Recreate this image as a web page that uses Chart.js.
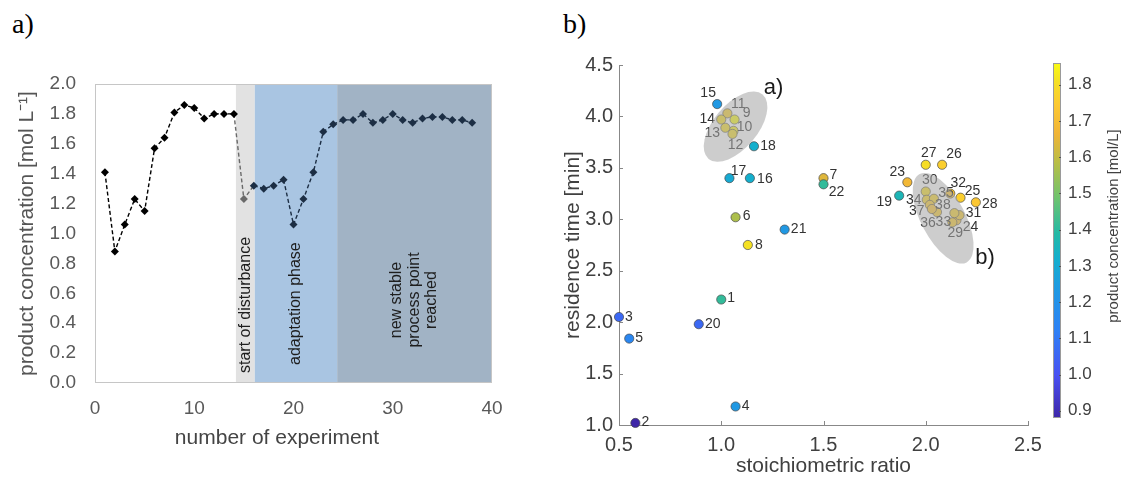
<!DOCTYPE html>
<html>
<head>
<meta charset="utf-8">
<script src="https://cdn.jsdelivr.net/npm/chart.js@4.4.1/dist/chart.umd.min.js"></script>
<style>
  html, body { margin: 0; padding: 0; background: #fff; }
  body { width: 1121px; height: 479px; position: relative; overflow: hidden; }
  .tag { position: absolute; top: 10px; font: 28px "Liberation Serif", "Times New Roman", serif; line-height: 1; color: #000; }
  #wrapA { position: absolute; left: 0; top: 0; width: 540px; height: 479px; }
  #wrapB { position: absolute; left: 540px; top: 0; width: 581px; height: 479px; }
</style>
</head>
<body>
<div class="tag" style="left:12px">a)</div>
<div class="tag" style="left:563px">b)</div>
<div id="wrapA"><canvas id="chartA"></canvas></div>
<div id="wrapB"><canvas id="chartB"></canvas></div>
<script>
// experiment number and measured product concentration [mol/L]
const experiments = [1, 2, 3, 4, 5, 6, 7, 8, 9, 10, 11, 12, 13, 14, 15, 16, 17, 18, 19,
  20, 21, 22, 23, 24, 25, 26, 27, 28, 29, 30, 31, 32, 33, 34, 35, 36, 37, 38];
const concentration = [1.41, 0.88, 1.06, 1.23, 1.15, 1.57, 1.64, 1.81, 1.86, 1.84,
  1.77, 1.80, 1.80, 1.80, 1.23, 1.32, 1.30, 1.32, 1.36, 1.06, 1.23, 1.41, 1.68, 1.73,
  1.76, 1.76, 1.80, 1.74, 1.76, 1.80, 1.76, 1.74, 1.77, 1.78, 1.78, 1.76, 1.76, 1.74];

// set points of every experiment
const stoichRatio = [1.00, 0.58, 0.50, 1.07, 0.55, 1.07, 1.50, 1.13, 1.065, 1.06,
  1.03, 1.055, 1.02, 1.00, 0.98, 1.14, 1.04, 1.16, 1.87, 0.89, 1.31, 1.50, 1.91, 2.15,
  2.17, 2.08, 2.00, 2.245, 2.13, 2.00, 2.165, 2.12, 2.14, 2.005, 2.04, 2.055, 2.02, 2.03];
const residenceTime = [2.22, 1.02, 2.05, 1.18, 1.84, 3.02, 3.40, 2.75, 3.97, 3.86,
  4.03, 3.83, 3.89, 3.97, 4.12, 3.40, 3.40, 3.71, 3.23, 1.98, 2.90, 3.34, 3.36, 2.99,
  3.21, 3.53, 3.53, 3.165, 2.97, 3.27, 3.04, 3.25, 3.06, 3.19, 3.20, 3.07, 3.14, 3.10];

// process phases along the experiment axis
const phaseStart = [14.2, 16.1, 24.4];
const phaseEnd = [16.1, 24.4, 40];
const phaseLabels = [['start of disturbance'], ['adaptation phase'], ['new stable', 'process point', 'reached']];

// grouped operating points
const clusterNames = ['a)', 'b)'];
const clusterRatio = [1.07, 2.085];
const clusterTime = [3.90, 3.01];

const colorbarTicks = [0.9, 1.0, 1.1, 1.2, 1.3, 1.4, 1.5, 1.6, 1.7, 1.8];

// ---- styling ----
const FONT = '"Liberation Sans", Arial, sans-serif';
Chart.defaults.font.family = FONT;
Chart.defaults.color = '#555';

const phaseFill = ['#e2e2e2', '#a9c5e2', '#a1b3c5'];
const captionStyle = [{align: 'left', y: 373}, {align: 'left', y: 365}, {align: 'center', y: 300}];
const pointInk = x => x <= 14 ? '#000000' : x < 16 ? '#6a6a6a' : '#1c2e44';
const segmentInk = x => x < 14 ? '#000000' : x < 16 ? '#6a6a6a' : '#1c2e44';

const clusterShape = [
  {rx: 42, ry: 22, rot: -50, dx: 38, dy: -39},
  {rx: 50, ry: 22, rot: 62, dx: 42, dy: 40}
];

// [dx, dy] of each run number relative to its marker
const labelOffset = {
  1: [10, -1], 2: [10, -1], 3: [10, 0], 4: [10, 0], 5: [10, 0], 6: [11, -1], 7: [10, -3],
  8: [11, 0], 9: [12, -6], 10: [11, -4], 11: [11, -9], 12: [3, 11], 13: [-13, 5],
  14: [-14, 0], 15: [-9, -11], 16: [15, 1], 17: [9, -7], 18: [14, 0], 19: [-15, 7],
  20: [14, 0], 21: [14, 0], 22: [13, 8], 23: [-10, -10], 24: [14, 7], 25: [12, -7],
  26: [12, -11], 27: [3, -12], 28: [14, 2], 29: [3, 11], 30: [4, -11], 31: [14, -2],
  32: [8, -10], 33: [-11, 9], 34: [-13, 0], 35: [12, -6], 36: [-9, 11], 37: [-13, 6],
  38: [11, -4]
};

// parula-like colour map
const parulaStops = [
  [0.00, [62, 38, 168]], [0.12, [72, 80, 242]], [0.25, [45, 130, 245]],
  [0.37, [30, 155, 225]], [0.45, [20, 175, 205]], [0.52, [35, 185, 165]],
  [0.62, [110, 195, 110]], [0.72, [185, 190, 70]], [0.80, [240, 180, 55]],
  [0.88, [252, 200, 50]], [0.95, [245, 225, 35]], [1.00, [249, 251, 20]]
];
function parula(t) {
  t = Math.max(0, Math.min(1, t));
  for (let i = 1; i < parulaStops.length; i++) {
    const [t1, c1] = parulaStops[i];
    if (t <= t1) {
      const [t0, c0] = parulaStops[i - 1];
      const f = (t - t0) / (t1 - t0);
      const c = c0.map((v, k) => Math.round(v + (c1[k] - v) * f));
      return `rgb(${c[0]},${c[1]},${c[2]})`;
    }
  }
  return 'rgb(249,251,20)';
}
const cMin = Math.min(...concentration);
const cMax = Math.max(...concentration);

// ---- panel a: concentration over the experiment series ----
const phasePlugin = {
  id: 'phases',
  beforeDatasetsDraw(chart) {
    const {ctx, chartArea: a, scales: {x}} = chart;
    ctx.save();
    phaseStart.forEach((s, i) => {
      const x0 = x.getPixelForValue(s), x1 = x.getPixelForValue(phaseEnd[i]);
      ctx.fillStyle = phaseFill[i];
      ctx.fillRect(x0, a.top, x1 - x0, a.bottom - a.top);
    });
    ctx.fillStyle = '#1e1e1e';
    ctx.font = '16px ' + FONT;
    ctx.textBaseline = 'middle';
    phaseLabels.forEach((lines, i) => {
      const cx = (x.getPixelForValue(phaseStart[i]) + x.getPixelForValue(phaseEnd[i])) / 2;
      const st = captionStyle[i];
      ctx.save();
      ctx.translate(cx, st.y);
      ctx.rotate(-Math.PI / 2);
      ctx.textAlign = st.align;
      lines.forEach((ln, k) => ctx.fillText(ln, 0, (k - (lines.length - 1) / 2) * 17.5));
      ctx.restore();
    });
    ctx.strokeStyle = '#c6c6c6';
    ctx.lineWidth = 1;
    ctx.strokeRect(a.left + 0.5, a.top + 0.5, a.right - a.left - 1, a.bottom - a.top - 1);
    ctx.restore();
  },
  afterDraw(chart) {
    const {ctx} = chart;
    ctx.save();
    ctx.fillStyle = '#444';
    ctx.font = '21px ' + FONT;
    ctx.textAlign = 'center';
    ctx.textBaseline = 'middle';
    ctx.fillText('number of experiment', 277, 438);
    ctx.restore();
  }
};

new Chart(document.getElementById('chartA'), {
  type: 'line',
  data: {
    datasets: [{
      data: experiments.map((e, i) => ({x: e, y: concentration[i]})),
      borderColor: '#000',
      borderWidth: 1.4,
      borderDash: [4, 2.5],
      pointStyle: 'rectRot',
      pointRadius: 4,
      pointBorderWidth: 0,
      pointBackgroundColor: experiments.map(pointInk),
      pointBorderColor: experiments.map(pointInk),
      segment: {borderColor: c => segmentInk(c.p0.parsed.x)},
      clip: false
    }]
  },
  options: {
    responsive: true,
    maintainAspectRatio: false,
    animation: false,
    layout: {padding: {top: 84, right: 48, bottom: 0, left: 0}},
    plugins: {legend: {display: false}, tooltip: {enabled: false}},
    scales: {
      x: {
        type: 'linear', min: 0, max: 40,
        grid: {display: false, drawTicks: false},
        border: {display: false},
        ticks: {stepSize: 10, padding: 14, color: '#595959', font: {size: 19}, autoSkip: false},
        afterFit: s => { s.height = 96; }
      },
      y: {
        min: 0, max: 2,
        grid: {display: false, drawTicks: false},
        border: {display: false},
        ticks: {stepSize: 0.2, padding: 19, color: '#595959', font: {size: 19}, autoSkip: false,
          callback: v => v.toFixed(1)},
        title: {display: true, text: 'product concentration [mol L⁻¹]', color: '#555',
          font: {size: 21}, padding: {top: 15, bottom: 0}},
        afterFit: s => { s.width = 95; }
      }
    }
  },
  plugins: [phasePlugin]
});

// ---- panel b: operating points coloured by concentration ----
const annotatePlugin = {
  id: 'annotate',
  afterDatasetsDraw(chart) {
    const {ctx, chartArea: a, scales: {x, y}} = chart;
    ctx.save();
    // inward tick marks
    ctx.strokeStyle = '#888';
    ctx.lineWidth = 1;
    ctx.beginPath();
    x.ticks.forEach(t => {
      const px = Math.round(x.getPixelForValue(t.value)) + 0.5;
      ctx.moveTo(px, a.bottom); ctx.lineTo(px, a.bottom - 4);
    });
    y.ticks.forEach(t => {
      const py = Math.round(y.getPixelForValue(t.value)) + 0.5;
      ctx.moveTo(a.left, py); ctx.lineTo(a.left + 4, py);
    });
    ctx.stroke();

    // run numbers
    ctx.fillStyle = '#333';
    ctx.font = '14px ' + FONT;
    ctx.textAlign = 'center';
    ctx.textBaseline = 'middle';
    experiments.forEach((e, i) => {
      const [dx, dy] = labelOffset[e];
      ctx.fillText(String(e), x.getPixelForValue(stoichRatio[i]) + dx, y.getPixelForValue(residenceTime[i]) + dy);
    });

    // translucent cluster outlines laid over the points
    clusterNames.forEach((name, i) => {
      const cx = x.getPixelForValue(clusterRatio[i]);
      const cy = y.getPixelForValue(clusterTime[i]);
      const s = clusterShape[i];
      ctx.beginPath();
      ctx.ellipse(cx, cy, s.rx, s.ry, s.rot * Math.PI / 180, 0, 2 * Math.PI);
      ctx.fillStyle = 'rgba(166,166,166,0.56)';
      ctx.fill();
      ctx.fillStyle = '#1a1a1a';
      ctx.font = '22px ' + FONT;
      ctx.fillText(name, cx + s.dx, cy + s.dy);
    });
    ctx.restore();
  },
  afterDraw(chart) {
    const {ctx} = chart;
    const left = 513, width = 8, top = 63, bottom = 418;
    ctx.save();
    const g = ctx.createLinearGradient(0, bottom, 0, top);
    parulaStops.forEach(([t]) => g.addColorStop(t, parula(t)));
    ctx.fillStyle = g;
    ctx.fillRect(left, top, width, bottom - top);
    ctx.strokeStyle = '#9a9a9a';
    ctx.lineWidth = 1;
    ctx.strokeRect(left + 0.5, top + 0.5, width - 1, bottom - top - 1);

    ctx.fillStyle = '#404040';
    ctx.font = '17px ' + FONT;
    ctx.textAlign = 'left';
    ctx.textBaseline = 'middle';
    colorbarTicks.forEach(v => {
      const py = bottom - (v - cMin) / (cMax - cMin) * (bottom - top);
      ctx.beginPath();
      ctx.moveTo(left + width - 2, Math.round(py) + 0.5);
      ctx.lineTo(left + width, Math.round(py) + 0.5);
      ctx.strokeStyle = '#555';
      ctx.stroke();
      ctx.fillText(v.toFixed(1), left + width + 7, py);
    });

    ctx.translate(574, 226);
    ctx.rotate(-Math.PI / 2);
    ctx.textAlign = 'center';
    ctx.font = '15px ' + FONT;
    ctx.fillText('product concentration [mol/L]', 0, 0);
    ctx.restore();
  }
};

new Chart(document.getElementById('chartB'), {
  type: 'scatter',
  data: {
    datasets: [{
      data: experiments.map((e, i) => ({x: stoichRatio[i], y: residenceTime[i]})),
      backgroundColor: concentration.map(c => parula((c - cMin) / (cMax - cMin))),
      borderColor: 'rgba(70,70,70,0.85)',
      borderWidth: 0.8,
      pointRadius: 4.6,
      clip: false
    }]
  },
  options: {
    responsive: true,
    maintainAspectRatio: false,
    animation: false,
    layout: {padding: {top: 65, right: 93, bottom: 0, left: 0}},
    plugins: {legend: {display: false}, tooltip: {enabled: false}},
    scales: {
      x: {
        min: 0.5, max: 2.5,
        grid: {display: false, drawTicks: false},
        border: {display: true, color: '#888', width: 1},
        ticks: {stepSize: 0.5, padding: 8, color: '#404040', font: {size: 20}, autoSkip: false,
          callback: v => v.toFixed(1)},
        title: {display: true, text: 'stoichiometric ratio', color: '#404040',
          font: {size: 21}, padding: {top: 0, bottom: 0}},
        afterFit: s => { s.height = 54; }
      },
      y: {
        min: 1, max: 4.5,
        grid: {display: false, drawTicks: false},
        border: {display: true, color: '#888', width: 1},
        ticks: {stepSize: 0.5, padding: 6, color: '#404040', font: {size: 20}, autoSkip: false,
          callback: v => v.toFixed(1)},
        title: {display: true, text: 'residence time [min]', color: '#404040',
          font: {size: 21}, padding: {top: 21, bottom: 0}},
        afterFit: s => { s.width = 79; }
      }
    }
  },
  plugins: [annotatePlugin]
});
</script>
</body>
</html>
